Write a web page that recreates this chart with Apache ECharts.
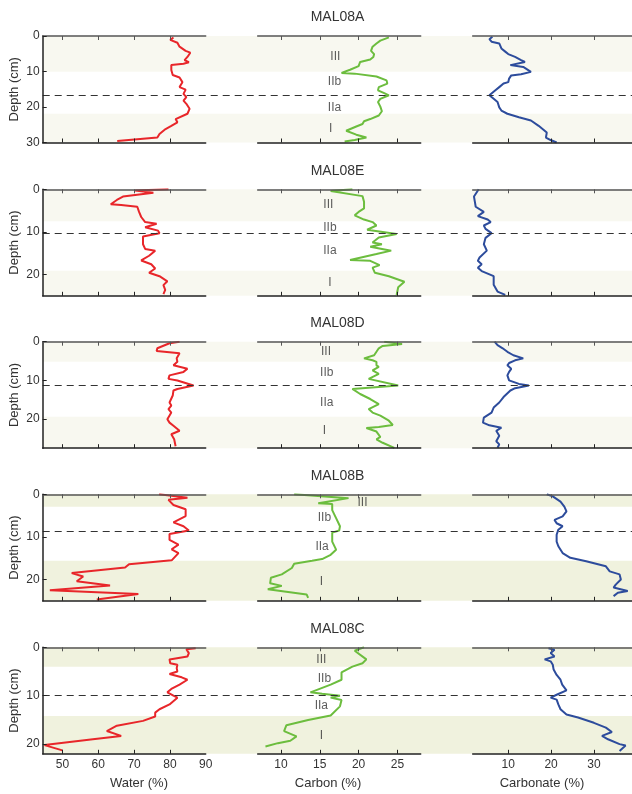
<!DOCTYPE html>
<html>
<head>
<meta charset="utf-8">
<script src="https://cdn.jsdelivr.net/npm/echarts@6/dist/echarts.min.js"></script>
<style>html,body{margin:0;padding:0;background:#fff}#c{width:632px;height:794px}</style>
</head>
<body>
<div id="c"></div>
<script>
// ---- data: [depth (cm), value] ----
const cores = ['MAL08A', 'MAL08E', 'MAL08D', 'MAL08B', 'MAL08C'];
const depthMax = [30, 25, 27.5, 25, 22];
const depthTicks = [[0,10,20,30],[0,10,20],[0,10,20],[0,10,20],[0,10,20]];
const waterTicks = [50,60,70,80,90];
const carbonTicks = [10,15,20,25];
const carbonateTicks = [10,20,30];
const waterRange = [44.5, 90];
const carbonRange = [7, 28];
const carbonateRange = [1.7, 38.9];

const waterA = [[0.4,81.0],[1.1,80.1],[1.9,82.1],[3.0,82.7],[4.2,84.4],[4.7,85.7],[5.9,84.9],[6.8,84.1],[7.4,85.3],[7.8,83.8],[8.2,80.4],[9.6,80.4],[11.0,80.8],[11.7,82.7],[13.0,83.5],[14.4,82.7],[15.1,84.4],[16.3,83.8],[17.2,84.6],[18.2,83.8],[19.1,84.6],[20.5,85.5],[21.9,84.9],[23.4,81.6],[24.3,82.1],[25.3,80.4],[26.2,78.8],[27.6,77.1],[28.6,76.5],[29.6,65.3]];
const carbonA = [[0.4,23.9],[1.3,22.8],[2.1,22.3],[3.0,21.8],[4.2,21.6],[5.1,22.0],[5.9,21.9],[6.6,21.5],[7.3,20.2],[8.5,20.0],[9.5,18.9],[10.4,17.8],[10.6,19.5],[11.4,22.3],[12.5,23.6],[13.4,23.7],[14.4,22.6],[15.3,22.5],[16.1,23.3],[16.7,23.9],[17.7,22.8],[18.6,22.5],[19.9,22.8],[21.2,23.0],[22.4,22.6],[23.4,21.5],[24.0,20.7],[24.8,20.5],[25.5,19.7],[26.7,18.4],[27.8,19.7],[28.6,21.0],[29.3,19.5],[29.7,18.2]];
const carbonateA = [[0.2,6.3],[0.9,5.6],[1.6,6.1],[2.1,7.9],[3.5,8.4],[4.4,9.3],[5.1,10.0],[5.9,11.6],[6.8,13.0],[7.3,13.9],[8.2,10.5],[8.7,13.5],[10.1,15.3],[10.8,13.0],[11.1,10.7],[12.0,10.2],[13.0,10.0],[13.4,8.9],[14.4,7.9],[15.3,7.0],[16.7,5.6],[17.7,6.6],[18.6,7.5],[20.1,7.9],[21.0,8.4],[21.9,9.8],[22.9,12.5],[23.8,15.3],[25.3,17.1],[27.2,19.0],[28.6,18.8],[29.3,19.9],[30.0,21.3]];

const waterE = [[0,79.6],[0.3,70.3],[0.8,75.4],[1.7,66.9],[2.5,65.2],[3.5,63.5],[3.7,66.4],[4.1,70.9],[5.3,71.4],[6.5,72.0],[7.7,73.1],[8.1,76.3],[8.9,73.1],[9.7,76.7],[10.3,77.1],[11.1,72.5],[12.9,72.5],[14.0,73.1],[14.4,75.9],[15.6,74.2],[16.7,72.0],[17.6,74.8],[18.6,75.9],[19.6,74.2],[20.4,77.1],[21.6,79.3],[22.5,78.2],[23.6,78.7],[24.6,78.2]];
const carbonE = [[0,19.2],[0.4,16.4],[1.6,20.5],[2.9,20.7],[4.5,20.7],[5.3,20.0],[6.1,19.5],[6.5,19.7],[7.1,20.7],[7.7,21.8],[8.5,22.3],[9.5,21.1],[10.5,24.9],[11.3,22.6],[12.5,21.8],[12.9,23.0],[13.5,21.5],[14.4,24.2],[15.2,22.3],[16.6,18.9],[16.8,21.5],[17.8,22.7],[18.4,21.8],[19.6,22.1],[20.4,23.9],[21.7,25.9],[23.0,25.1],[24.8,24.9]];
const carbonateE = [[0,3.1],[0.4,3.5],[1.7,2.0],[2.9,2.2],[4.1,2.4],[5.3,4.3],[5.7,4.7],[6.3,2.9],[7.1,5.2],[7.7,5.9],[8.5,4.3],[9.3,4.7],[10.3,6.1],[11.4,4.7],[12.9,4.3],[14.4,5.0],[16.0,3.3],[16.8,2.9],[17.6,3.8],[18.4,2.9],[19.2,3.8],[20.4,6.6],[22.4,6.6],[24.0,7.5],[24.8,9.3]];

const waterD = [[0,82.7],[0.4,79.9],[1.7,76.5],[2.4,76.3],[3.0,82.7],[4.3,81.9],[5.2,82.1],[6.1,81.0],[7.0,84.9],[7.8,83.8],[8.7,79.9],[9.6,79.6],[10.0,82.1],[11.3,86.6],[12.2,82.1],[12.6,81.0],[13.9,80.8],[15.7,79.9],[16.5,80.4],[17.4,79.6],[18.3,80.4],[20.0,79.3],[20.9,79.9],[21.7,81.0],[23.0,82.7],[23.9,80.4],[25.2,81.2],[27.0,81.6]];
const carbonD = [[0,23.3],[0.6,25.6],[1.1,23.1],[1.7,22.6],[2.6,22.3],[3.5,22.0],[4.3,20.7],[4.8,21.8],[5.2,22.3],[6.1,22.3],[6.5,22.6],[7.4,21.8],[8.3,22.6],[9.6,21.3],[10.0,21.5],[11.3,25.1],[12.2,19.2],[13.5,20.2],[14.8,21.5],[16.1,22.6],[17.4,21.3],[18.3,21.8],[19.1,22.8],[20.4,23.9],[21.5,24.4],[22.0,22.6],[22.3,21.0],[23.2,22.3],[24.6,22.8],[25.2,22.3],[26.1,23.1],[27.4,24.6]];
const carbonateD = [[0,6.8],[0.9,7.5],[1.7,8.7],[2.6,9.8],[3.5,11.2],[4.3,13.5],[4.8,11.6],[5.5,10.2],[6.1,9.8],[7.0,10.7],[7.8,10.2],[8.7,9.8],[10.0,10.2],[10.9,12.5],[11.3,14.8],[12.0,11.6],[12.6,10.5],[14.3,8.9],[15.7,7.9],[17.0,6.6],[18.3,6.1],[19.6,4.3],[20.9,4.1],[21.6,5.6],[22.2,8.4],[23.0,7.2],[24.3,7.9],[25.7,7.2],[26.5,7.9],[27.4,7.5]];

const waterB = [[0,77.0],[0.8,84.9],[1.3,79.6],[2.5,81.0],[3.5,84.4],[5.1,84.4],[6.6,81.0],[7.5,83.8],[8.5,85.3],[9.3,79.9],[10.7,79.9],[11.8,82.4],[12.9,80.5],[13.8,82.4],[15.5,80.5],[16.4,68.6],[17.2,67.5],[18.5,52.6],[19.3,55.8],[20.4,54.0],[21.4,63.3],[22.5,46.5],[23.4,71.2],[24.7,59.6]];
const carbonB = [[0,11.7],[0.9,18.7],[2.1,14.8],[2.3,16.6],[3.7,16.6],[5.6,17.1],[7.5,17.6],[8.5,17.5],[9.0,16.6],[11.1,16.6],[13.0,17.1],[14.2,16.4],[15.2,15.3],[15.6,14.0],[16.3,11.7],[17.3,11.4],[18.8,10.1],[19.6,8.7],[20.9,8.6],[21.5,10.1],[22.3,8.3],[23.5,13.3],[24.3,13.5]];
const carbonateB = [[0,19.0],[0.5,20.4],[1.7,22.2],[2.9,23.1],[4.0,23.6],[5.2,22.7],[6.0,20.8],[6.8,21.3],[7.5,22.7],[8.3,21.7],[9.5,21.3],[11.1,21.3],[12.2,21.7],[13.8,22.7],[14.9,24.5],[15.7,28.2],[16.9,32.8],[18.1,33.7],[18.8,36.0],[20.0,36.3],[21.2,35.1],[21.9,34.6],[22.7,37.9],[23.1,35.6],[23.9,34.6]];

const waterC = [[0.2,87.2],[0.4,84.6],[1.2,85.3],[1.9,84.9],[2.5,79.9],[3.3,80.1],[3.6,82.1],[4.3,81.9],[5.0,82.1],[5.5,79.9],[6.2,83.3],[6.7,84.9],[7.7,82.7],[8.6,80.4],[9.3,79.3],[10.0,81.0],[10.4,82.1],[11.8,79.9],[12.8,77.1],[13.5,75.9],[14.3,75.9],[15.2,72.5],[16.2,65.2],[17.3,62.4],[18.3,66.4],[19.0,58.5],[20.2,45.0],[21.3,50.0]];
const carbonC = [[0,20.7],[0.7,19.5],[2.5,21.0],[3.3,20.5],[4.0,19.2],[5.2,17.8],[6.7,17.8],[7.7,16.4],[9.3,13.8],[9.6,15.3],[10.0,17.6],[10.4,16.4],[10.9,17.8],[12.2,17.6],[14.1,16.4],[15.0,13.5],[16.1,10.7],[17.3,10.4],[18.4,12.0],[19.3,11.2],[19.8,9.6],[20.5,8.0]];
const carbonateC = [[0.2,19.4],[0.5,20.8],[1.2,19.9],[1.9,20.8],[2.5,18.5],[2.9,19.9],[3.6,20.4],[4.6,20.6],[5.7,21.3],[6.7,22.2],[7.7,22.6],[8.9,23.6],[9.8,21.3],[10.4,19.9],[10.8,21.3],[11.8,21.7],[12.8,22.2],[13.9,23.6],[14.5,26.3],[15.6,30.0],[16.6,32.8],[17.5,34.2],[18.3,31.9],[19.0,33.3],[20.0,36.0],[20.3,37.4],[21.4,36.0]];

// shaded zone bands [from, to] (cm) and dashed boundary depth
const bands = [[[0,10.1],[21.9,30]], [[0,7.5],[19.1,25]], [[0,5.2],[19.4,27.5]], [[0,2.9],[15.6,25]], [[0,4.0],[14.2,22]]];
const boundary = [16.8, 10.3, 11.3, 8.6, 10.0];
// zone labels: [name, carbon %, depth]
const zones = [
  [['III',17.0,5.9],['IIb',16.9,12.8],['IIa',16.9,20.1],['I',16.4,26.0]],
  [['III',16.1,3.6],['IIb',16.3,8.9],['IIa',16.3,14.4],['I',16.3,22.0]],
  [['III',15.8,2.6],['IIb',15.9,8.1],['IIa',15.9,15.7],['I',15.6,22.9]],
  [['III',20.5,1.9],['IIb',15.6,5.6],['IIa',15.3,12.4],['I',15.2,20.6]],
  [['III',15.2,2.5],['IIb',15.6,6.5],['IIa',15.2,12.0],['I',15.2,18.2]]
];
const seriesData = [
  [waterA, carbonA, carbonateA],
  [waterE, carbonE, carbonateE],
  [waterD, carbonD, carbonateD],
  [waterB, carbonB, carbonateB],
  [waterC, carbonC, carbonateC]
];

// ---- layout / style ----
const FONT = '"Liberation Sans", Arial, sans-serif';
const TXT = '#333';
const rowTop = [36, 189.3, 341.7, 494.3, 647.3];
const H = 106.5;
const colLeft = [42.7, 257.7, 472.7];
const colW = 163;
const shade = ['#f8f8f0', '#f8f8f0', '#f8f8f0', '#f0f2de', '#f0f2de'];
const colors = ['#e8262a', '#6cbd3e', '#2d4c9c'];
const ranges = [waterRange, carbonRange, carbonateRange];
const ticks = [waterTicks, carbonTicks, carbonateTicks];
const tickMarks = [[50,60,70,80], carbonTicks, carbonateTicks];

const option = {animation: false, grid: [], xAxis: [], yAxis: [], series: [], graphic: []};

function addGrid(g) { option.grid.push(g); return option.grid.length - 1; }

cores.forEach((name, r) => {
  const dmax = depthMax[r];
  // background grid for bands and dashed line
  const gb = addGrid({left: colLeft[0], top: rowTop[r], width: 632 - colLeft[0], height: H});
  option.xAxis.push({gridIndex: gb, type: 'value', min: 0, max: 1, show: false});
  const xb = option.xAxis.length - 1;
  option.yAxis.push({gridIndex: gb, type: 'value', min: 0, max: dmax, inverse: true, show: false});
  const yb = option.yAxis.length - 1;
  option.series.push({
    type: 'scatter', xAxisIndex: xb, yAxisIndex: yb, data: [[0, 0]], symbolSize: 0,
    itemStyle: {color: 'rgba(0,0,0,0)'}, silent: true, z: 1,
    markArea: {silent: true, itemStyle: {color: shade[r]},
      data: bands[r].map(b => [{yAxis: b[0]}, {yAxis: b[1]}])},
    markLine: {silent: true, symbol: 'none', label: {show: false},
      lineStyle: {type: [7, 5], color: '#333', width: 1.2},
      data: [{yAxis: boundary[r]}]}
  });

  for (let c = 0; c < 3; c++) {
    const g = addGrid({left: colLeft[c], top: rowTop[r], width: colW, height: H});
    const last = r === cores.length - 1;
    const base = {gridIndex: g, type: 'value', min: ranges[c][0], max: ranges[c][1], splitLine: {show: false}, z: 5};
    option.xAxis.push(Object.assign({}, base, {
      position: 'top',
      axisLine: {show: true, onZero: false, lineStyle: {color: '#555', width: 1.5}},
      axisTick: {show: true, inside: true, length: 4, customValues: tickMarks[c], lineStyle: {color: '#555', width: 1}},
      axisLabel: {show: false}
    }));
    const xt = option.xAxis.length - 1;
    option.xAxis.push(Object.assign({}, base, {
      position: 'bottom',
      axisLine: {show: true, onZero: false, lineStyle: {color: '#222', width: 1.5}},
      axisTick: {show: true, inside: true, length: 4, customValues: tickMarks[c], lineStyle: {color: '#222', width: 1}},
      axisLabel: {show: last, customValues: ticks[c], margin: 5, color: TXT, fontSize: 12, fontFamily: FONT}
    }));
    option.yAxis.push({
      gridIndex: g, type: 'value', min: 0, max: dmax, inverse: true, z: 5,
      splitLine: {show: false},
      axisLine: {show: c === 0, onZero: false, lineStyle: {color: '#222', width: 1.5}},
      axisTick: {show: c === 0, inside: true, length: 4, customValues: depthTicks[r], lineStyle: {color: '#222'}},
      axisLabel: {show: c === 0, customValues: depthTicks[r], margin: 3, color: TXT, fontSize: 12, fontFamily: FONT},
      name: c === 0 ? 'Depth (cm)' : '', nameLocation: 'middle', nameGap: 22,
      nameTextStyle: {color: TXT, fontSize: 13, fontFamily: FONT}
    });
    const yi = option.yAxis.length - 1;
    option.series.push({
      type: 'line', xAxisIndex: xt, yAxisIndex: yi,
      data: seriesData[r][c].map(p => [p[1], p[0]]),
      showSymbol: false, symbol: 'none', z: 3, silent: true,
      lineStyle: {color: colors[c], width: 2}, itemStyle: {color: colors[c]}
    });
    if (c === 1) {
      option.series.push({
        type: 'scatter', xAxisIndex: xt, yAxisIndex: yi, z: 4, silent: true,
        data: zones[r].map(z => [z[1], z[2], z[0]]), symbolSize: 1,
        itemStyle: {color: 'rgba(0,0,0,0)'},
        label: {show: true, position: 'inside', formatter: p => p.data[2],
          color: TXT, fontSize: 12, fontFamily: FONT}
      });
    }
  }
  option.graphic.push({type: 'text', x: 337.5, y: rowTop[r] - 18.5,
    style: {text: name, align: 'center', verticalAlign: 'middle', textAlign: 'center', textVerticalAlign: 'middle',
      fill: TXT, font: '14px ' + FONT}});
});

const axisNames = [['Water (%)', 139], ['Carbon (%)', 328], ['Carbonate (%)', 542]];
axisNames.forEach(a => option.graphic.push({type: 'text', x: a[1], y: 783,
  style: {text: a[0], align: 'center', verticalAlign: 'middle', textAlign: 'center', textVerticalAlign: 'middle',
    fill: TXT, font: '13px ' + FONT}}));

const chart = echarts.init(document.getElementById('c'), null, {renderer: 'canvas'});
chart.setOption(option);
</script>
</body>
</html>
